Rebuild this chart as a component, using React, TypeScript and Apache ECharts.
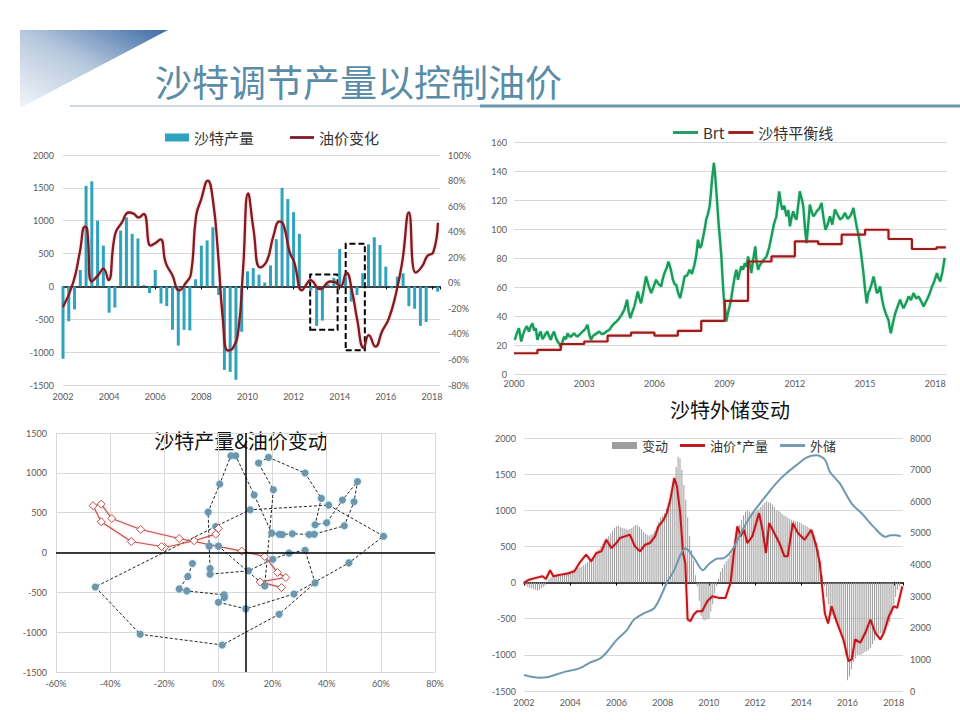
import React, { useEffect, useRef } from 'react';
import * as echarts from 'echarts';

// ---------- Top-left: Saudi production change (quarterly from 2002Q1) & oil price change ----------
const PROD_START_YEAR = 2002;
const PROD_CHANGE = [
  -1100, -530, -350, 250, 1530, 1600, 1000, 620,
  -400, -320, 850, 1050, 800, 730, 20, -100,
  250, -260, -300, -660, -900, -660, -670, 110,
  620, 700, 900, -130, -1270, -1300, -1420, -690,
  230, 280, 180, 60, 320, 720, 1500, 1330,
  1130, 800, 0, -60, -600, -520, 30, 130,
  570, 150, -230, -130, 200, 640, 750, 630,
  300, -30, 150, 200, -300, -340, -600, -540,
  0, -80,
];
const OIL_YEARS = [
  2002.0, 2002.44, 2002.73, 2002.95, 2003.05, 2003.24, 2003.53, 2003.75, 2003.97, 2004.26,
  2004.55, 2004.85, 2005.07, 2005.28, 2005.5, 2005.8, 2006.0, 2006.23, 2006.45, 2006.74,
  2007.04, 2007.33, 2007.55, 2007.77, 2007.99, 2008.28, 2008.5, 2008.72, 2008.93, 2009.15,
  2009.37, 2009.6, 2009.81, 2010.03, 2010.26, 2010.55, 2010.84, 2011.13, 2011.39, 2011.57,
  2011.83, 2012.03, 2012.36, 2012.57, 2012.72, 2013.16, 2013.59, 2013.81, 2014.03, 2014.29,
  2014.54, 2014.75, 2015.04, 2015.26, 2015.55, 2015.84, 2016.13, 2016.42, 2016.71, 2017.0,
  2017.29, 2017.58, 2017.8, 2018.06, 2018.26,
];
const OIL_CHANGE = [
  -19, 0, 24, 44, 42, 1, 6, 11, 2, 38,
  47, 55, 54, 51, 54, 29, 31, 34, 16, 6,
  -6, 0, 7, 52, 65, 80, 65, 24, -28, -53,
  -51, -38, 11, 70, 42, 12, 17, 37, 48, 45,
  24, 16, -6, -1, 2, -5, 1, 0.5, -3, 8,
  -7, -28, -51, -41, -50, -38, -28, -10, 16, 55,
  8, 13, 21, 24, 47,
];
// dashed highlight boxes [x0, x1, yTop, yBottom]
const BOXES = [
  [2012.72, 2013.91, 180, -660],
  [2014.26, 2015.09, 650, -970],
];

// ---------- Top-right: Brent & Saudi fiscal breakeven ----------
const BRT_YEARS = [
  2000.03, 2000.12, 2000.21, 2000.31, 2000.38, 2000.46, 2000.55, 2000.64, 2000.72, 2000.79,
  2000.86, 2000.93, 2001.0, 2001.07, 2001.14, 2001.22, 2001.29, 2001.36, 2001.43, 2001.5,
  2001.57, 2001.64, 2001.71, 2001.79, 2001.86, 2001.93, 2002.0, 2002.07, 2002.14, 2002.22,
  2002.29, 2002.36, 2002.43, 2002.5, 2002.57, 2002.64, 2002.71, 2002.82, 2002.93, 2003.04,
  2003.14, 2003.22, 2003.29, 2003.36, 2003.43, 2003.54, 2003.64, 2003.75, 2003.86, 2003.96,
  2004.07, 2004.18, 2004.29, 2004.4, 2004.5, 2004.6, 2004.71, 2004.77, 2004.83, 2004.9,
  2004.97, 2005.06, 2005.14, 2005.22, 2005.29, 2005.36, 2005.43, 2005.54, 2005.64, 2005.75,
  2005.86, 2005.96, 2006.07, 2006.18, 2006.29, 2006.36, 2006.43, 2006.52, 2006.6, 2006.7,
  2006.79, 2006.86, 2006.93, 2007.01, 2007.1, 2007.2, 2007.29, 2007.4, 2007.5, 2007.6,
  2007.71, 2007.79, 2007.86, 2007.93, 2008.0, 2008.05, 2008.1, 2008.16, 2008.21, 2008.28,
  2008.36, 2008.41, 2008.46, 2008.54, 2008.59, 2008.64, 2008.69, 2008.74, 2008.8, 2008.86,
  2008.91, 2008.96, 2009.07, 2009.14, 2009.21, 2009.28, 2009.36, 2009.43, 2009.5, 2009.57,
  2009.64, 2009.71, 2009.79, 2009.86, 2009.93, 2010.0, 2010.07, 2010.14, 2010.22, 2010.31,
  2010.36, 2010.43, 2010.5, 2010.57, 2010.68, 2010.79, 2010.9, 2011.0, 2011.1, 2011.21,
  2011.27, 2011.33, 2011.4, 2011.46, 2011.55, 2011.64, 2011.72, 2011.79, 2011.86, 2011.93,
  2012.0, 2012.07, 2012.14, 2012.21, 2012.29, 2012.36, 2012.43, 2012.5, 2012.57, 2012.64,
  2012.72, 2012.79, 2012.86, 2012.93, 2013.04, 2013.14, 2013.22, 2013.31, 2013.4, 2013.5,
  2013.6, 2013.71, 2013.82, 2013.93, 2014.04, 2014.14, 2014.25, 2014.36, 2014.43, 2014.5,
  2014.57, 2014.64, 2014.72, 2014.79, 2014.86, 2014.93, 2015.0, 2015.07, 2015.14, 2015.2,
  2015.28, 2015.36, 2015.43, 2015.5, 2015.57, 2015.64, 2015.72, 2015.79, 2015.9, 2016.0,
  2016.05, 2016.1, 2016.2, 2016.29, 2016.4, 2016.5, 2016.57, 2016.64, 2016.75, 2016.86,
  2016.96, 2017.07, 2017.18, 2017.29, 2017.4, 2017.5, 2017.57, 2017.64, 2017.75, 2017.86,
  2017.96, 2018.07, 2018.14, 2018.21, 2018.3, 2018.4,
];
const BRT_PRICE = [
  23.5, 28, 31.6, 22.4, 27, 30.4, 33, 29.3, 33, 35,
  30, 31.6, 23.5, 27, 29.3, 24, 25.8, 28, 29.3, 26,
  23.5, 27, 29.3, 25, 22.4, 21, 18.9, 22, 25.8, 24,
  28.1, 26, 25.8, 27, 28.1, 26.5, 25.8, 27.5, 29.3, 31,
  33.9, 27, 23.5, 26, 27, 28, 29.3, 27.5, 28.1, 29.5,
  30.4, 33, 35, 36.5, 38.5, 41, 44.2, 47.5, 51.2, 43,
  38.5, 43, 46.5, 52, 56.9, 52, 48.8, 58, 67.3, 61,
  55.8, 60, 65, 62, 60.4, 66, 69.6, 73, 77.6, 72,
  65, 62, 61.5, 56, 52.3, 60, 67.3, 68, 71.9, 69,
  75.3, 82, 92.6, 87, 88, 92, 96.1, 101, 106.5, 110,
  115.7, 124, 134.1, 145.6, 138, 127.2, 116, 104.1, 93, 81.1,
  66, 53.5, 36.2, 42, 46.5, 52, 60.4, 67, 71.9, 65,
  70, 74.2, 72, 76.5, 74, 81.1, 76, 69.6, 79, 88,
  78, 71.9, 75, 76.5, 79, 81.1, 87, 94.9, 103, 108.8,
  117, 126, 118, 113.4, 116, 108.8, 113, 101.8, 108, 112.2,
  108, 106.5, 116, 126, 121, 115.7, 101, 90.3, 103, 116.8,
  112, 108.8, 110, 112.2, 114, 118, 108, 99.5, 103, 108.8,
  103, 113.4, 110, 106.5, 108, 111.1, 107, 108.8, 111, 114.5,
  108, 101.8, 96, 88, 79, 69.6, 58, 48.8, 56, 58,
  62, 67.3, 62, 55.8, 57, 60.4, 52, 46.5, 41, 37.3,
  32, 28.1, 36, 41.9, 47, 51.2, 48, 45.4, 49, 53.5,
  51, 55.8, 52, 53.5, 50, 46.5, 49, 51.2, 55, 60.4,
  64, 69.6, 66, 63.8, 70, 80,
];
const BREAKEVEN_YEARS = [2000, 2001, 2002, 2003, 2004, 2005, 2006, 2007, 2008, 2009, 2010, 2011, 2012, 2013, 2014, 2015, 2016, 2017, 2018.05, 2018.45];
const BREAKEVEN_PRICE = [14.3, 16.6, 20.7, 22.4, 26.5, 28.6, 26.5, 29.7, 36.6, 50.5, 77.6, 81.1, 91.5, 89.6, 96.1, 99.5, 93.1, 86.2, 87.3, 87.3];

// ---------- Bottom-left: production change vs oil price change ----------
const SCAT_BLUE_X = [
  -9.6, -11.3, -14.5, -11.7, 2.1, 2.2, 0, 10.1, 27.9, 48.2,
  61.0, 40.7, 11.7, -1.0, -45.5, -28.9, 1.4, 22.4, 35.7, 32.0,
  26.1, 20.1, 11.1, -3.1, -3.1, -3.4, -3.8, 0.5, 4.6, 6.4,
  13.2, 19.7, 22.5, 23.6, 27.3, 33.5, 35.4, 46.5, 50.1, 51.4,
  45.8, 40.0, 35.7, 38.0, 32.0, 18.5, 14.8, 20.3, 17.1, 0,
];
const SCAT_BLUE_Y = [
  -138, -302, -457, -482, -532, -566, -624, -708, -520, -130,
  205, 595, 536, 327, -432, -1027, -1161, -775, -381, 29,
  -8, -84, -230, -272, -201, 80, 507, 859, 1215, 1215,
  721, 243, 230, 226, 235, 226, 230, 335, 637, 892,
  658, 373, 348, 679, 997, 1194, 1123, 788, -419, 80,
];
const SCAT_RED_X = [0, -1, -9, -19.9, -21, -32.2, -43.3, -46.3, -43.3, -39.4, -28.7, -14.5, 8.6, 17.1, 21.8, 24.9, 15.4, 23.3];
const SCAT_RED_Y = [302, 230, 147, 63, 75, 138, 385, 587, 608, 427, 289, 176, 17, -50, -251, -314, -369, -440];

// ---------- Bottom-right: reserves change, price*production, FX reserves ----------
const RES_START_YEAR = 2002;
const RES_CHANGE = [
  -20, -40, -60, -70, -80, -90, -100, -110, -100, -80, -60, -40,
  20, 50, 70, 90, 100, 110, 120, 110, 120, 130, 140, 150,
  160, 170, 180, 190, 200, 210, 220, 240, 260, 280, 300, 330,
  360, 400, 430, 460, 500, 540, 580, 610, 640, 680, 720, 760,
  780, 790, 770, 760, 750, 740, 730, 740, 760, 780, 800, 790,
  770, 740, 700, 680, 660, 650, 660, 680, 720, 780, 840, 900,
  920, 960, 1020, 1100, 1150, 1250, 1400, 1600, 1740, 1720, 1560, 1350,
  1150, 900, 640, 450, 300, 100, -50, -250, -460, -510, -520, -510,
  -500, -400, -300, -150, -50, 50, 150, 200, 250, 300, 330, 380,
  420, 500, 600, 700, 800, 870, 930, 980, 1000, 980, 960, 970,
  980, 1000, 1020, 1050, 1080, 1100, 1120, 1110, 1100, 1080, 1050, 1000,
  1000, 980, 950, 930, 915, 900, 880, 870, 860, 850, 846, 830,
  820, 800, 790, 777, 760, 740, 700, 650, 560, 460, 300, 100,
  -50, -200, -300, -400, -450, -500, -550, -600, -650, -700, -800, -1000,
  -1350, -1300, -1200, -1100, -1050, -1000, -1000, -1000, -980, -960, -950, -930,
  -900, -850, -800, -750, -720, -700, -700, -680, -650, -600, -550, -450,
  -300, -200, -100, -50,
];
const PXQ_YEARS = [
  2002.0, 2002.22, 2002.51, 2002.8, 2002.95, 2003.13, 2003.27, 2003.6, 2003.89, 2004.18,
  2004.4, 2004.69, 2004.91, 2005.13, 2005.35, 2005.56, 2005.78, 2006.0, 2006.15, 2006.36,
  2006.58, 2006.8, 2007.02, 2007.24, 2007.45, 2007.67, 2007.82, 2008.04, 2008.18, 2008.33,
  2008.5, 2008.62, 2008.76, 2008.88, 2008.98, 2009.08, 2009.2, 2009.35, 2009.49, 2009.71,
  2009.93, 2010.15, 2010.43, 2010.72, 2010.94, 2011.08, 2011.23, 2011.37, 2011.52, 2011.66,
  2011.88, 2012.17, 2012.32, 2012.47, 2012.61, 2012.83, 2013.05, 2013.27, 2013.41, 2013.63,
  2013.85, 2014.14, 2014.43, 2014.65, 2014.8, 2015.02, 2015.16, 2015.31, 2015.45, 2015.6,
  2015.82, 2016.04, 2016.18, 2016.33, 2016.55, 2016.77, 2016.99, 2017.2, 2017.42, 2017.57,
  2017.79, 2018.0, 2018.15, 2018.37,
];
const PXQ_VALUES = [
  0, 40, 65, 87, 50, 170, 87, 110, 124, 156,
  271, 386, 294, 409, 432, 593, 478, 547, 616, 639,
  662, 501, 432, 524, 547, 639, 777, 869, 961, 1145,
  1444, 1329, 961, 409, 271, -511, -534, -442, -396, -396,
  -258, -189, -212, -212, 0, 409, 777, 639, 731, 547,
  639, 961, 731, 409, 823, 685, 547, 363, 363, 823,
  685, 593, 731, 501, 262, -428, -566, -327, -465, -603,
  -787, -1086, -1063, -787, -833, -695, -511, -695, -787, -695,
  -465, -327, -350, -51,
];
const FX_YEARS = [
  2002.0, 2002.65, 2003.1, 2003.68, 2004.4, 2004.85, 2005.3, 2005.6, 2006.0, 2006.45,
  2006.74, 2007.18, 2007.62, 2007.91, 2008.2, 2008.5, 2008.8, 2009.0, 2009.37, 2009.74,
  2010.03, 2010.4, 2010.57, 2011.0, 2011.45, 2011.88, 2012.32, 2012.9, 2013.34, 2013.78,
  2014.22, 2014.65, 2015.02, 2015.24, 2015.67, 2016.18, 2016.62, 2017.13, 2017.64, 2017.86,
  2018.08, 2018.3,
];
const FX_RESERVES = [
  505, 421, 453, 590, 716, 895, 1032, 1242, 1610, 1926,
  2242, 2453, 2610, 2979, 3453, 3821, 4347, 4505, 4189, 3821,
  4032, 4189, 4189, 4453, 5084, 5611, 6032, 6558, 6874, 7137,
  7379, 7453, 7316, 6926, 6558, 5926, 5611, 5190, 4874, 4926,
  4926, 4895,
];

const CJK = "'Noto Sans CJK SC', sans-serif";
const NUM = "Lato, 'DejaVu Sans', sans-serif";
const plain = (v: number) => String(v);
const LABEL = { color: '#595959', fontSize: 9, fontFamily: NUM };
const GRIDLINE = { show: true, lineStyle: { color: '#d9d9d9', width: 1 } };
const LINE_ICON = 'path://M0 0H26V3H0Z';

const evenYear = (v: number) => {
  const r = Math.round(v);
  return Math.abs(v - r) < 1e-6 && r % 2 === 0 ? String(r) : '';
};
const every3From2000 = (v: number) => {
  const r = Math.round(v);
  return Math.abs(v - r) < 1e-6 && r % 3 === 0 ? String(2000 + r) : '';
};
const zip = (xs: number[], ys: number[], off = 0) => xs.map((x, i) => [x - off, ys[i]]);

export default function App() {
  const ref = useRef<HTMLDivElement>(null);
  useEffect(() => {
    if (!ref.current) return;
    const chart = echarts.init(ref.current, undefined, { renderer: 'svg' });
    const prodData = PROD_CHANGE.map((v, i) => [PROD_START_YEAR + i / 4, v]);
    const resData = RES_CHANGE.map((v, i) => [RES_START_YEAR + i / 12, v]);
    const option: any = {
      animation: false,
      backgroundColor: '#ffffff',
      textStyle: { fontFamily: CJK },
      graphic: [
        {
          type: 'polygon',
          shape: { points: [[20, 30], [168, 30], [20, 108]] },
          style: {
            fill: new echarts.graphic.LinearGradient(0, 1, 1, 0, [
              { offset: 0, color: '#f2f5f9' },
              { offset: 0.5, color: '#b7c8dd' },
              { offset: 1, color: '#3e6ba6' },
            ]),
          },
        },
        { type: 'line', shape: { x1: 70, y1: 106, x2: 960, y2: 106 }, style: { stroke: '#9db4c2', lineWidth: 1 } },
        { type: 'rect', shape: { x: 480, y: 104.5, width: 480, height: 3 }, style: { fill: '#6a95ad' } },
        {
          type: 'text', x: 155, y: 81,
          style: { text: '沙特调节产量以控制油价', font: `37px ${CJK}`, fill: '#5a8ca7', align: 'left', verticalAlign: 'middle' },
        },
        {
          type: 'text', x: 241, y: 440,
          style: { text: '沙特产量&油价变动', font: `20px ${CJK}`, fill: '#111', align: 'center', verticalAlign: 'middle' },
        },
        {
          type: 'text', x: 730, y: 409,
          style: { text: '沙特外储变动', font: `20px ${CJK}`, fill: '#111', align: 'center', verticalAlign: 'middle' },
        },
      ],
      legend: [
        {
          data: [{ name: '沙特产量', icon: 'rect' }, { name: '油价变化', icon: LINE_ICON }],
          left: 160, top: 125, itemWidth: 24, itemHeight: 8, itemGap: 36,
          textStyle: { fontSize: 15, color: '#333', fontFamily: CJK },
        },
        {
          data: [{ name: 'Brt', icon: LINE_ICON }, { name: '沙特平衡线', icon: LINE_ICON }],
          left: 668, top: 120, itemWidth: 25, itemHeight: 8, itemGap: 4,
          textStyle: { fontSize: 15, color: '#333', fontFamily: CJK },
        },
        {
          data: [{ name: '变动', icon: 'rect' }, { name: '油价*产量', icon: LINE_ICON }, { name: '外储', icon: LINE_ICON }],
          left: 607, top: 434, itemWidth: 25, itemHeight: 7, itemGap: 12,
          textStyle: { fontSize: 13, color: '#333', fontFamily: CJK },
        },
      ],
      grid: [
        { left: 63, top: 155, width: 377, height: 230 },
        { left: 514, top: 142, width: 433, height: 232 },
        { left: 56, top: 433, width: 379, height: 239 },
        { left: 524, top: 438, width: 379, height: 253 },
      ],
      xAxis: [
        {
          gridIndex: 0, type: 'value', min: 2002, max: 2018.35, interval: 2,
          axisLine: { show: false, onZero: false }, axisTick: { show: false }, splitLine: { show: false },
          axisLabel: { ...LABEL, margin: 7, formatter: evenYear, showMaxLabel: false },
        },
        {
          gridIndex: 0, type: 'value', min: 2002, max: 2018.35, interval: 2, position: 'bottom',
          axisLine: { show: true, onZero: true, lineStyle: { color: '#000', width: 1.5 } },
          axisTick: { show: true, length: 3, lineStyle: { color: '#000' } },
          axisLabel: { show: false }, splitLine: { show: false },
        },
        {
          gridIndex: 1, type: 'value', min: 0, max: 18.5, interval: 3,
          axisLine: { show: false, onZero: false }, axisTick: { show: false }, splitLine: { show: false },
          axisLabel: { ...LABEL, margin: 5, formatter: every3From2000, showMaxLabel: false },
        },
        {
          gridIndex: 2, type: 'value', min: -60, max: 80, interval: 20,
          axisLine: { show: false, onZero: false }, axisTick: { show: false }, splitLine: GRIDLINE,
          axisLabel: { ...LABEL, margin: 7, formatter: '{value}%' },
        },
        {
          gridIndex: 3, type: 'value', min: 2002, max: 2018.4, interval: 2,
          axisLine: { show: false, onZero: false }, axisTick: { show: false }, splitLine: { show: false },
          axisLabel: { ...LABEL, margin: 7, formatter: evenYear, showMaxLabel: false },
        },
        {
          gridIndex: 3, type: 'value', min: 2002, max: 2018.4, interval: 2, position: 'bottom',
          axisLine: { show: true, onZero: true, lineStyle: { color: '#000', width: 1.5 } },
          axisTick: { show: true, length: 3, lineStyle: { color: '#000' } },
          axisLabel: { show: false }, splitLine: { show: false },
        },
      ],
      yAxis: [
        {
          gridIndex: 0, type: 'value', min: -1500, max: 2000, interval: 500,
          axisLine: { show: false }, axisTick: { show: false }, splitLine: GRIDLINE,
          axisLabel: { ...LABEL, margin: 9, formatter: plain },
        },
        {
          gridIndex: 0, type: 'value', min: -80, max: 100, interval: 20, position: 'right',
          axisLine: { show: false }, axisTick: { show: false }, splitLine: { show: false },
          axisLabel: { ...LABEL, margin: 8, formatter: '{value}%' },
        },
        {
          gridIndex: 1, type: 'value', min: 0, max: 160, interval: 20,
          axisLine: { show: false }, axisTick: { show: false }, splitLine: GRIDLINE,
          axisLabel: { ...LABEL, margin: 7, formatter: plain },
        },
        {
          gridIndex: 2, type: 'value', min: -1500, max: 1500, interval: 500,
          axisLine: { show: false }, axisTick: { show: false }, splitLine: GRIDLINE,
          axisLabel: { ...LABEL, margin: 9, formatter: plain },
        },
        {
          gridIndex: 3, type: 'value', min: -1500, max: 2000, interval: 500,
          axisLine: { show: false }, axisTick: { show: false }, splitLine: GRIDLINE,
          axisLabel: { ...LABEL, margin: 8, formatter: plain },
        },
        {
          gridIndex: 3, type: 'value', min: 0, max: 8000, interval: 1000, position: 'right',
          axisLine: { show: false }, axisTick: { show: false }, splitLine: { show: false },
          axisLabel: { ...LABEL, margin: 7, formatter: plain },
        },
      ],
      series: [
        {
          name: '沙特产量', type: 'bar', xAxisIndex: 0, yAxisIndex: 0, barWidth: 3, clip: false,
          data: prodData, itemStyle: { color: '#2fa3bd' },
          markArea: {
            silent: true,
            itemStyle: { color: 'rgba(0,0,0,0)', borderColor: '#000', borderWidth: 2, borderType: [6, 3] },
            data: BOXES.map((b) => [{ xAxis: b[0], yAxis: b[2] }, { xAxis: b[1], yAxis: b[3] }]),
          },
        },
        {
          name: '油价变化', type: 'line', xAxisIndex: 0, yAxisIndex: 1, smooth: 0.5, symbol: 'none',
          data: zip(OIL_YEARS, OIL_CHANGE),
          lineStyle: { color: '#7d1a22', width: 2.3, shadowColor: 'rgba(230,60,60,0.35)', shadowBlur: 2 },
          itemStyle: { color: '#7d1a22' },
        },
        {
          name: 'Brt', type: 'line', xAxisIndex: 2, yAxisIndex: 2, symbol: 'none',
          data: zip(BRT_YEARS, BRT_PRICE, 2000),
          lineStyle: { color: '#1f9a5c', width: 2.4, shadowColor: 'rgba(40,210,110,0.35)', shadowBlur: 2 },
          itemStyle: { color: '#1f9a5c' },
        },
        {
          name: '沙特平衡线', type: 'line', xAxisIndex: 2, yAxisIndex: 2, symbol: 'none', step: 'end',
          data: zip(BREAKEVEN_YEARS, BREAKEVEN_PRICE, 2000),
          lineStyle: { color: '#9c1c1c', width: 2.2, shadowColor: 'rgba(230,60,60,0.3)', shadowBlur: 2 },
          itemStyle: { color: '#9c1c1c' },
        },
        {
          name: 'scatterBlue', type: 'line', xAxisIndex: 3, yAxisIndex: 3,
          data: zip(SCAT_BLUE_X, SCAT_BLUE_Y), showAllSymbol: true,
          symbol: 'circle', symbolSize: 7,
          lineStyle: { color: '#222', width: 1, type: [3, 2] },
          itemStyle: { color: '#6f95ab', shadowColor: 'rgba(80,200,235,0.6)', shadowBlur: 2 },
          markLine: {
            silent: true, symbol: 'none', label: { show: false },
            lineStyle: { color: '#000', width: 1.5, type: 'solid' },
            data: [{ yAxis: 0 }, { xAxis: 10 }],
          },
        },
        {
          name: 'scatterRed', type: 'line', xAxisIndex: 3, yAxisIndex: 3,
          data: zip(SCAT_RED_X, SCAT_RED_Y), showAllSymbol: true,
          symbol: 'diamond', symbolSize: 8,
          lineStyle: { color: '#c0504d', width: 1.2, shadowColor: 'rgba(240,120,130,0.5)', shadowBlur: 3 },
          itemStyle: { color: '#ffffff', borderColor: '#c0504d', borderWidth: 1 },
        },
        {
          name: '变动', type: 'bar', xAxisIndex: 4, yAxisIndex: 4, barWidth: 1, clip: false,
          data: resData, itemStyle: { color: '#9d9d9d' },
        },
        {
          name: '油价*产量', type: 'line', xAxisIndex: 4, yAxisIndex: 4, symbol: 'none',
          data: zip(PXQ_YEARS, PXQ_VALUES),
          lineStyle: { color: '#c0131b', width: 2, shadowColor: 'rgba(240,60,60,0.4)', shadowBlur: 2 },
          itemStyle: { color: '#c0131b' },
        },
        {
          name: '外储', type: 'line', xAxisIndex: 4, yAxisIndex: 5, symbol: 'none', smooth: 0.3,
          data: zip(FX_YEARS, FX_RESERVES),
          lineStyle: { color: '#6f99ae', width: 2 },
          itemStyle: { color: '#6f99ae' },
        },
      ],
    };
    chart.setOption(option);
    return () => chart.dispose();
  }, []);
  return (
    <div
      ref={ref}
      style={{ position: 'absolute', left: 0, top: 0, width: 960, height: 720, background: '#fff' }}
    />
  );
}
